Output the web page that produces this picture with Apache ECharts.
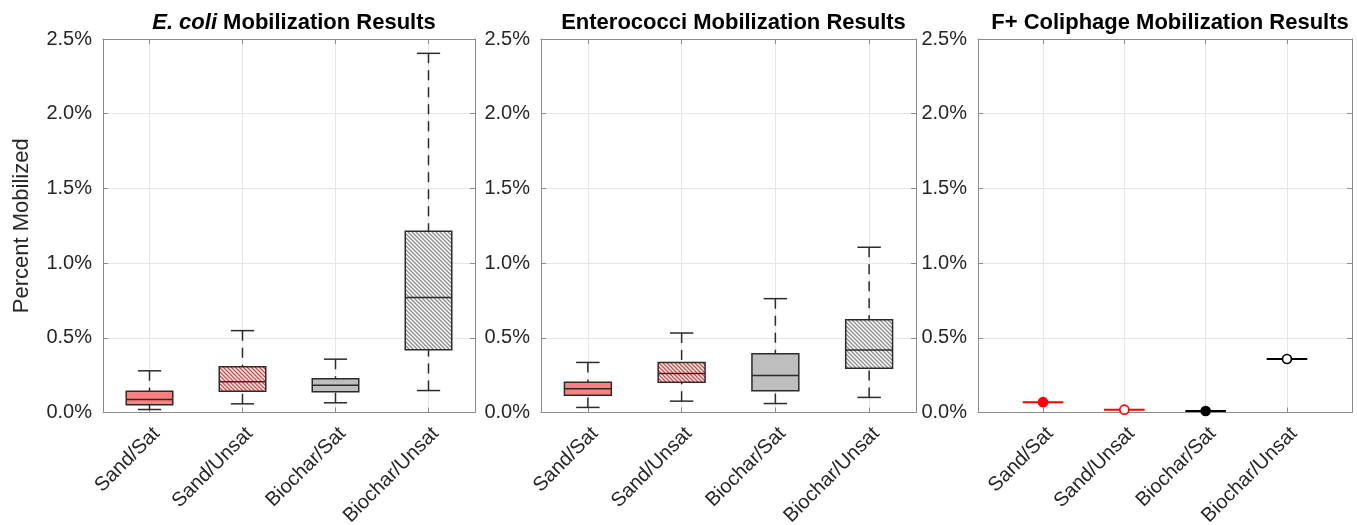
<!DOCTYPE html>
<html>
<head>
<meta charset="utf-8">
<title>Mobilization Results</title>
<script src="https://cdn.jsdelivr.net/npm/echarts@6/dist/echarts.min.js"></script>
<style>
  html, body { margin: 0; padding: 0; background: #ffffff; }
  #chart { width: 1357px; height: 525px; }
</style>
</head>
<body>
<div id="chart"></div>
<script>
// Treatment categories shared by all three panels
const categories = ['Sand/Sat', 'Sand/Unsat', 'Biochar/Sat', 'Biochar/Unsat'];
const yTicks = [0, 0.5, 1.0, 1.5, 2.0, 2.5];   // percent mobilized

// Box statistics per category: [lower whisker, Q1, median, Q3, upper whisker] (%)
const ecoliStats = [
  [0.020, 0.052, 0.087, 0.143, 0.279],
  [0.058, 0.143, 0.206, 0.306, 0.548],
  [0.065, 0.139, 0.183, 0.226, 0.357],
  [0.147, 0.420, 0.769, 1.213, 2.404]
];
const enteroStats = [
  [0.034, 0.116, 0.159, 0.203, 0.335],
  [0.076, 0.203, 0.261, 0.335, 0.532],
  [0.060, 0.145, 0.248, 0.393, 0.762],
  [0.101, 0.297, 0.418, 0.621, 1.106]
];
// F+ coliphage: single value per category (%)
const coliphageValues = [0.069, 0.019, 0.010, 0.358];

const panelTitles = [
  '{i|E. coli} Mobilization Results',
  'Enterococci Mobilization Results',
  'F+ Coliphage Mobilization Results'
];

// ---- styling ----
const FONT = '"Liberation Sans", Arial, Helvetica, sans-serif';
const TEXT = '#262626';
const AXIS = '#8c8c8c';
const GRIDLINE = '#e6e6e6';
const EDGE = '#2b2b2b';

function hatch(lineColor, bg) {
  const s = 4;
  const c = document.createElement('canvas');
  c.width = s; c.height = s;
  const g = c.getContext('2d');
  g.fillStyle = bg; g.fillRect(0, 0, s, s);
  g.strokeStyle = lineColor; g.lineWidth = 1.3;
  g.beginPath();
  g.moveTo(-1, -1); g.lineTo(s + 1, s + 1);
  g.moveTo(-1, s - 1); g.lineTo(1, s + 1);
  g.moveTo(s - 1, -1); g.lineTo(s + 1, 1);
  g.stroke();
  return { image: c, repeat: 'repeat' };
}
const boxFills = [
  '#ff8080',
  hatch('#ff3333', '#ffffff'),
  '#bebebe',
  hatch('#8a8a8a', '#ffffff')
];
const pointColors = ['#ff0000', '#ff0000', '#000000', '#000000'];
const pointFilled = [true, false, true, false];

const grids = [
  { left: 103, top: 39, width: 372, height: 373.5, outerBoundsMode: 'none' },
  { left: 541, top: 39, width: 375, height: 373.5, outerBoundsMode: 'none' },
  { left: 978, top: 39, width: 374, height: 373.5, outerBoundsMode: 'none' }
];
const xRanges = [[0.5, 4.5], [0.5, 4.5], [0.2, 4.8]];
const catPositions = [1, 2, 3, 4];

const xAxes = [], yAxes = [];
grids.forEach((g, i) => {
  xAxes.push({
    type: 'value', gridIndex: i, position: 'bottom',
    min: xRanges[i][0], max: xRanges[i][1],
    axisLine: { show: true, onZero: false, lineStyle: { color: AXIS, width: 1 } },
    axisTick: { show: true, inside: true, length: 5, customValues: catPositions, lineStyle: { color: AXIS } },
    axisLabel: {
      show: true, customValues: catPositions, rotate: 45, margin: 11,
      verticalAlign: 'top',
      fontSize: 20, color: TEXT, fontFamily: FONT,
      formatter: v => categories[Math.round(v) - 1]
    },
    splitLine: { show: true, lineStyle: { color: GRIDLINE, width: 1 } }
  });
  xAxes.push({
    type: 'value', gridIndex: i, position: 'top',
    min: xRanges[i][0], max: xRanges[i][1],
    axisLine: { show: true, onZero: false, lineStyle: { color: AXIS, width: 1 } },
    axisTick: { show: true, inside: true, length: 5, customValues: catPositions, lineStyle: { color: AXIS } },
    axisLabel: { show: false },
    splitLine: { show: false }
  });
  yAxes.push({
    type: 'value', gridIndex: i, position: 'left',
    min: yTicks[0], max: yTicks[yTicks.length - 1], interval: 0.5,
    name: i === 0 ? 'Percent Mobilized' : '',
    nameLocation: 'middle', nameGap: 70,
    nameTextStyle: { fontSize: 22, color: TEXT, fontFamily: FONT },
    axisLine: { show: true, lineStyle: { color: AXIS, width: 1 } },
    axisTick: { show: true, inside: true, length: 5, lineStyle: { color: AXIS } },
    axisLabel: {
      show: true, margin: 11, fontSize: 20, color: TEXT, fontFamily: FONT,
      formatter: v => v.toFixed(1) + '%'
    },
    splitLine: { show: true, lineStyle: { color: GRIDLINE, width: 1 } }
  });
  yAxes.push({
    type: 'value', gridIndex: i, position: 'right',
    min: yTicks[0], max: yTicks[yTicks.length - 1], interval: 0.5,
    axisLine: { show: true, lineStyle: { color: AXIS, width: 1 } },
    axisTick: { show: true, inside: true, length: 5, lineStyle: { color: AXIS } },
    axisLabel: { show: false },
    splitLine: { show: false }
  });
});

// Box-and-whisker glyph: dashed whiskers, solid caps, filled box, median line
function renderBox(params, api) {
  const x = api.value(0);
  const idx = api.value(6);
  const cx = api.coord([x, 0])[0];
  const yLo = api.coord([x, api.value(1)])[1];
  const yQ1 = api.coord([x, api.value(2)])[1];
  const yMed = api.coord([x, api.value(3)])[1];
  const yQ3 = api.coord([x, api.value(4)])[1];
  const yHi = api.coord([x, api.value(5)])[1];
  const half = api.size([0.5, 0])[0] / 2;
  const capHalf = half / 2;
  const lw = 1.5;
  const dash = [10, 7];
  return {
    type: 'group',
    children: [
      { type: 'line', shape: { x1: cx, y1: yHi, x2: cx, y2: yQ3 },
        style: { stroke: EDGE, lineWidth: lw, lineDash: dash } },
      { type: 'line', shape: { x1: cx, y1: yLo, x2: cx, y2: yQ1 },
        style: { stroke: EDGE, lineWidth: lw, lineDash: dash } },
      { type: 'line', shape: { x1: cx - capHalf, y1: yHi, x2: cx + capHalf, y2: yHi },
        style: { stroke: EDGE, lineWidth: lw } },
      { type: 'line', shape: { x1: cx - capHalf, y1: yLo, x2: cx + capHalf, y2: yLo },
        style: { stroke: EDGE, lineWidth: lw } },
      { type: 'rect', shape: { x: cx - half, y: yQ3, width: 2 * half, height: yQ1 - yQ3 },
        style: { fill: boxFills[idx], stroke: EDGE, lineWidth: lw } },
      { type: 'line', shape: { x1: cx - half, y1: yMed, x2: cx + half, y2: yMed },
        style: { stroke: EDGE, lineWidth: lw } }
    ]
  };
}

// Single-value glyph: short horizontal bar with a circle marker
function renderPoint(params, api) {
  const x = api.value(0);
  const idx = api.value(2);
  const p = api.coord([x, api.value(1)]);
  const half = api.size([0.5, 0])[0] / 2;
  const col = pointColors[idx];
  return {
    type: 'group',
    children: [
      { type: 'line', shape: { x1: p[0] - half, y1: p[1], x2: p[0] + half, y2: p[1] },
        style: { stroke: col, lineWidth: 2 } },
      { type: 'circle', shape: { cx: p[0], cy: p[1], r: 4.5 },
        style: { fill: pointFilled[idx] ? col : '#ffffff', stroke: col, lineWidth: 1.7 } }
    ]
  };
}

function boxData(stats) {
  return stats.map((s, i) => [catPositions[i], s[0], s[1], s[2], s[3], s[4], i]);
}

const option = {
  backgroundColor: '#ffffff',
  animation: false,
  textStyle: { fontFamily: FONT },
  title: panelTitles.map((t, i) => ({
    text: t,
    left: grids[i].left + grids[i].width / 2,
    top: 7,
    textAlign: 'center',
    textStyle: {
      fontSize: 22, fontWeight: 'bold', color: '#000000', fontFamily: FONT,
      rich: { i: { fontSize: 22, fontWeight: 'bold', fontStyle: 'italic', color: '#000000', fontFamily: FONT } }
    }
  })),
  grid: grids,
  xAxis: xAxes,
  yAxis: yAxes,
  series: [
    {
      type: 'custom', name: 'E. coli', xAxisIndex: 0, yAxisIndex: 0,
      renderItem: renderBox, data: boxData(ecoliStats),
      encode: { x: 0, y: [1, 2, 3, 4, 5] }, clip: false
    },
    {
      type: 'custom', name: 'Enterococci', xAxisIndex: 2, yAxisIndex: 2,
      renderItem: renderBox, data: boxData(enteroStats),
      encode: { x: 0, y: [1, 2, 3, 4, 5] }, clip: false
    },
    {
      type: 'custom', name: 'F+ Coliphage', xAxisIndex: 4, yAxisIndex: 4,
      renderItem: renderPoint,
      data: coliphageValues.map((v, i) => [catPositions[i], v, i]),
      encode: { x: 0, y: 1 }, clip: false
    }
  ]
};

const chart = echarts.init(document.getElementById('chart'), null, { renderer: 'canvas' });
chart.setOption(option);
</script>
</body>
</html>
